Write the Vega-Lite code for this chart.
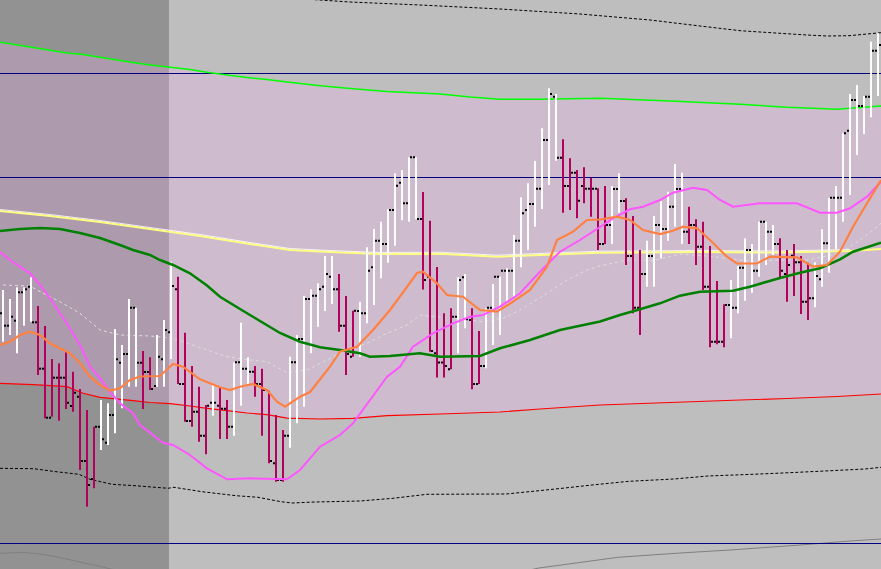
{
"$schema":"https://vega.github.io/schema/vega-lite/v6.json",
"width":881,"height":569,"padding":0,"autosize":{"type":"none"},
"background":"#bebebe",
"config":{"view":{"stroke":null}},
"datasets":{
"zone":[{"t":-0.43,"t2":23.71}],
"levels":[{"v":495.5},{"v":391.5},{"v":25.5}],
"band":[
{"t":-0.43,"up":526.7,"lo":185.7},{"t":4.29,"up":521.5,"lo":184.3},{"t":9.14,"up":516,"lo":182.3},{"t":11.43,"up":514.5,"lo":175.7},{"t":13.86,"up":511.7,"lo":171.7},{"t":18.57,"up":506.5,"lo":168.3},{"t":21,"up":504,"lo":166.5},{"t":23.86,"up":501.8,"lo":165.3},{"t":26.71,"up":499.5,"lo":163},{"t":29.14,"up":496.7,"lo":160.7},{"t":32,"up":494,"lo":158.3},{"t":34.86,"up":491.5,"lo":156},{"t":37.71,"up":489.5,"lo":154.3},{"t":40.57,"up":487,"lo":150.8},{"t":45.29,"up":483.2,"lo":150},{"t":50,"up":480.2,"lo":150.7},{"t":54.86,"up":477.5,"lo":153.3},{"t":62.43,"up":475,"lo":155},{"t":66.71,"up":472,"lo":156},{"t":71,"up":469.7,"lo":157},{"t":76.71,"up":469.7,"lo":160},{"t":85.29,"up":470.7,"lo":164},{"t":95.29,"up":468,"lo":166.5},{"t":105.29,"up":464.7,"lo":169},{"t":112,"up":461.7,"lo":170.5},{"t":119.14,"up":459.7,"lo":172.5},{"t":125.43,"up":463,"lo":175}],
"lines":[
{"s":"dtop","t":28.14,"v":579},{"s":"dtop","t":41,"v":571},{"s":"dtop","t":49.57,"v":567},{"s":"dtop","t":59.57,"v":564},{"s":"dtop","t":71,"v":560},{"s":"dtop","t":82.43,"v":555},{"s":"dtop","t":92.43,"v":549},{"s":"dtop","t":99.57,"v":543},{"s":"dtop","t":105.29,"v":538.3},{"s":"dtop","t":111,"v":535.7},{"s":"dtop","t":114.86,"v":534},{"s":"dtop","t":117.71,"v":533},{"s":"dtop","t":120.86,"v":533.3},{"s":"dtop","t":125.43,"v":536.3},
{"s":"dbot","t":-0.43,"v":100.7},{"s":"dbot","t":4.39,"v":100.3},{"s":"dbot","t":7.57,"v":97.3},{"s":"dbot","t":10.86,"v":94.7},{"s":"dbot","t":12.43,"v":89.7},{"s":"dbot","t":15.57,"v":84.7},{"s":"dbot","t":18.86,"v":83.3},{"s":"dbot","t":23.57,"v":80.7},{"s":"dbot","t":24.43,"v":81.7},{"s":"dbot","t":28.43,"v":77.3},{"s":"dbot","t":33.29,"v":73.3},{"s":"dbot","t":36.43,"v":71.7},{"s":"dbot","t":39.71,"v":67.3},{"s":"dbot","t":41.29,"v":66},{"s":"dbot","t":44.57,"v":67},{"s":"dbot","t":51,"v":68},{"s":"dbot","t":55.71,"v":70.7},{"s":"dbot","t":60.57,"v":74.7},{"s":"dbot","t":71.86,"v":75},{"s":"dbot","t":76.57,"v":78.3},{"s":"dbot","t":79.86,"v":80.7},{"s":"dbot","t":84.57,"v":84.3},{"s":"dbot","t":89.43,"v":87.7},{"s":"dbot","t":95.86,"v":90},{"s":"dbot","t":100.71,"v":93},{"s":"dbot","t":107.14,"v":94.7},{"s":"dbot","t":113.57,"v":96.7},{"s":"dbot","t":118.29,"v":98.3},{"s":"dbot","t":123.14,"v":100},{"s":"dbot","t":125.43,"v":101.7},
{"s":"grey","g":"a","t":-0.43,"v":15.7},{"s":"grey","g":"a","t":2.71,"v":16.7},{"s":"grey","g":"a","t":5.29,"v":15},{"s":"grey","g":"a","t":7.57,"v":12.3},{"s":"grey","g":"a","t":11,"v":7},{"s":"grey","g":"a","t":14,"v":2.3},{"s":"grey","g":"a","t":16,"v":-1},
{"s":"grey","g":"b","t":73.86,"v":-3},{"s":"grey","g":"b","t":76.57,"v":1},{"s":"grey","g":"b","t":87.86,"v":11.7},{"s":"grey","g":"b","t":96.71,"v":16},{"s":"grey","g":"b","t":103.86,"v":19},{"s":"grey","g":"b","t":113.86,"v":24},{"s":"grey","g":"b","t":121,"v":28},{"s":"grey","g":"b","t":125.43,"v":30},
{"s":"faint","t":0,"v":284},{"s":"faint","t":3.86,"v":283},{"s":"faint","t":5.29,"v":277.3},{"s":"faint","t":8.14,"v":267.3},{"s":"faint","t":11,"v":255.7},{"s":"faint","t":13.86,"v":239},{"s":"faint","t":16.71,"v":234},{"s":"faint","t":21,"v":233},{"s":"faint","t":24.29,"v":230.7},{"s":"faint","t":29.14,"v":219},{"s":"faint","t":32,"v":212.3},{"s":"faint","t":35.29,"v":209},{"s":"faint","t":37.71,"v":207.3},{"s":"faint","t":40.57,"v":196.3},{"s":"faint","t":43.43,"v":199},{"s":"faint","t":46.29,"v":209},{"s":"faint","t":49.14,"v":219},{"s":"faint","t":52,"v":225.7},{"s":"faint","t":54.86,"v":235.7},{"s":"faint","t":57.71,"v":244},{"s":"faint","t":59.57,"v":254},{"s":"faint","t":62.43,"v":251.7},{"s":"faint","t":65.71,"v":249.7},{"s":"faint","t":68.57,"v":247.3},{"s":"faint","t":71.43,"v":250.7},{"s":"faint","t":73.86,"v":259},{"s":"faint","t":77.71,"v":275.7},{"s":"faint","t":80.57,"v":289},{"s":"faint","t":83.43,"v":299},{"s":"faint","t":85.29,"v":303},{"s":"faint","t":89.14,"v":309},{"s":"faint","t":92.86,"v":308.3},{"s":"faint","t":96.71,"v":315},{"s":"faint","t":100.57,"v":313},{"s":"faint","t":103.43,"v":310.7},{"s":"faint","t":107.14,"v":307.3},{"s":"faint","t":111,"v":309},{"s":"faint","t":114.86,"v":309},{"s":"faint","t":119.57,"v":315.7},{"s":"faint","t":122.43,"v":329},{"s":"faint","t":124.29,"v":339},{"s":"faint","t":125.43,"v":345.7},
{"s":"yellow","t":-0.43,"v":358},{"s":"yellow","t":6.71,"v":353},{"s":"yellow","t":13.86,"v":347},{"s":"yellow","t":21,"v":340},{"s":"yellow","t":28.14,"v":333},{"s":"yellow","t":35.29,"v":325},{"s":"yellow","t":41,"v":319},{"s":"yellow","t":46.71,"v":317},{"s":"yellow","t":53.86,"v":315},{"s":"yellow","t":62.43,"v":315.3},{"s":"yellow","t":70.57,"v":312.3},{"s":"yellow","t":77.71,"v":314.3},{"s":"yellow","t":85.29,"v":316.3},{"s":"yellow","t":99.57,"v":317},{"s":"yellow","t":111,"v":316.5},{"s":"yellow","t":121,"v":318},{"s":"yellow","t":125.43,"v":320},
{"s":"white","t":-0.43,"v":359.5},{"s":"white","t":6.71,"v":354.5},{"s":"white","t":13.86,"v":348.5},{"s":"white","t":21,"v":341.5},{"s":"white","t":28.14,"v":334.5},{"s":"white","t":35.29,"v":326.5},{"s":"white","t":41,"v":320.5},{"s":"white","t":46.71,"v":318.5},{"s":"white","t":53.86,"v":316.5},{"s":"white","t":62.43,"v":316.8},{"s":"white","t":70.57,"v":313.8},{"s":"white","t":77.71,"v":315.8},{"s":"white","t":85.29,"v":317.8},{"s":"white","t":99.57,"v":318.5},{"s":"white","t":111,"v":318},{"s":"white","t":121,"v":319.5},
{"s":"dgreen","t":-0.43,"v":338},{"s":"dgreen","t":2.43,"v":340},{"s":"dgreen","t":5.29,"v":341},{"s":"dgreen","t":8.14,"v":340},{"s":"dgreen","t":11,"v":336},{"s":"dgreen","t":13.86,"v":331},{"s":"dgreen","t":16.71,"v":324},{"s":"dgreen","t":18.57,"v":319},{"s":"dgreen","t":21,"v":314},{"s":"dgreen","t":22.43,"v":309},{"s":"dgreen","t":24.29,"v":304},{"s":"dgreen","t":26.71,"v":295.7},{"s":"dgreen","t":29.14,"v":283.5},{"s":"dgreen","t":31,"v":272.3},{"s":"dgreen","t":33.86,"v":260},{"s":"dgreen","t":36.71,"v":248},{"s":"dgreen","t":39.57,"v":236},{"s":"dgreen","t":42.43,"v":227.3},{"s":"dgreen","t":45.29,"v":221.7},{"s":"dgreen","t":48.14,"v":219},{"s":"dgreen","t":51,"v":215.7},{"s":"dgreen","t":52.43,"v":212.3},{"s":"dgreen","t":55.29,"v":213},{"s":"dgreen","t":59.57,"v":215.7},{"s":"dgreen","t":62.43,"v":212.3},{"s":"dgreen","t":68.14,"v":213},{"s":"dgreen","t":71,"v":220.7},{"s":"dgreen","t":75.29,"v":229},{"s":"dgreen","t":79.57,"v":239},{"s":"dgreen","t":85.29,"v":247.5},{"s":"dgreen","t":88.14,"v":254},{"s":"dgreen","t":91,"v":259.7},{"s":"dgreen","t":93.86,"v":265.7},{"s":"dgreen","t":96.71,"v":273.3},{"s":"dgreen","t":99.57,"v":277.3},{"s":"dgreen","t":104.29,"v":278.3},{"s":"dgreen","t":106.71,"v":282.3},{"s":"dgreen","t":109.14,"v":287.3},{"s":"dgreen","t":111,"v":291},{"s":"dgreen","t":113.86,"v":296.3},{"s":"dgreen","t":116.71,"v":300.7},{"s":"dgreen","t":119.57,"v":309.7},{"s":"dgreen","t":121.43,"v":317.3},{"s":"dgreen","t":125.43,"v":326.3},
{"s":"magenta","t":-0.43,"v":317},{"s":"magenta","t":1,"v":309},{"s":"magenta","t":3.86,"v":295.7},{"s":"magenta","t":5.29,"v":284},{"s":"magenta","t":6.71,"v":270.7},{"s":"magenta","t":8.14,"v":255.7},{"s":"magenta","t":9.57,"v":240.7},{"s":"magenta","t":11,"v":224},{"s":"magenta","t":12.43,"v":202.3},{"s":"magenta","t":13.86,"v":190.7},{"s":"magenta","t":15.29,"v":177.3},{"s":"magenta","t":16.71,"v":165.7},{"s":"magenta","t":18.57,"v":155.7},{"s":"magenta","t":19.57,"v":144},{"s":"magenta","t":21.43,"v":134},{"s":"magenta","t":22.86,"v":126.3},{"s":"magenta","t":24.29,"v":124},{"s":"magenta","t":26.71,"v":114},{"s":"magenta","t":29.14,"v":100.7},{"s":"magenta","t":32,"v":89.7},{"s":"magenta","t":35.29,"v":90.7},{"s":"magenta","t":40.57,"v":89.7},{"s":"magenta","t":42.43,"v":99},{"s":"magenta","t":45.29,"v":122.3},{"s":"magenta","t":48.14,"v":134},{"s":"magenta","t":50,"v":145.7},{"s":"magenta","t":52.43,"v":169},{"s":"magenta","t":54.86,"v":192.3},{"s":"magenta","t":56.71,"v":202.3},{"s":"magenta","t":58.57,"v":222.3},{"s":"magenta","t":61.43,"v":235.7},{"s":"magenta","t":64.29,"v":245.7},{"s":"magenta","t":66.71,"v":252.3},{"s":"magenta","t":68.57,"v":254},{"s":"magenta","t":71,"v":262.3},{"s":"magenta","t":73.86,"v":275.7},{"s":"magenta","t":76.71,"v":297.3},{"s":"magenta","t":79.57,"v":317.3},{"s":"magenta","t":82.43,"v":329},{"s":"magenta","t":85.29,"v":342},{"s":"magenta","t":87.14,"v":350.7},{"s":"magenta","t":89.57,"v":359.7},{"s":"magenta","t":91.43,"v":362.3},{"s":"magenta","t":93.86,"v":369},{"s":"magenta","t":95.71,"v":376.3},{"s":"magenta","t":98.57,"v":381.3},{"s":"magenta","t":100.57,"v":379},{"s":"magenta","t":102.43,"v":369},{"s":"magenta","t":104.29,"v":362.3},{"s":"magenta","t":108.14,"v":365.7},{"s":"magenta","t":113.43,"v":365.7},{"s":"magenta","t":116.71,"v":356.3},{"s":"magenta","t":119.14,"v":356.3},{"s":"magenta","t":121,"v":360.7},{"s":"magenta","t":123.43,"v":372.3},{"s":"magenta","t":125.43,"v":387.3},
{"s":"orange","t":-0.43,"v":224},{"s":"orange","t":1,"v":227.3},{"s":"orange","t":2.43,"v":234},{"s":"orange","t":3.86,"v":237.3},{"s":"orange","t":5.29,"v":234},{"s":"orange","t":6.71,"v":225.7},{"s":"orange","t":8.14,"v":220.7},{"s":"orange","t":9.57,"v":215.7},{"s":"orange","t":11,"v":205.7},{"s":"orange","t":12.43,"v":192.3},{"s":"orange","t":13.86,"v":184},{"s":"orange","t":15.29,"v":178.3},{"s":"orange","t":16.71,"v":180.7},{"s":"orange","t":18.14,"v":189},{"s":"orange","t":19.57,"v":192.5},{"s":"orange","t":22.43,"v":193},{"s":"orange","t":24.29,"v":205},{"s":"orange","t":25.71,"v":202.3},{"s":"orange","t":28.14,"v":189.7},{"s":"orange","t":31,"v":181.7},{"s":"orange","t":32.43,"v":179},{"s":"orange","t":33.86,"v":182.3},{"s":"orange","t":35.71,"v":185},{"s":"orange","t":37.71,"v":179},{"s":"orange","t":39.14,"v":167.3},{"s":"orange","t":40.29,"v":162.3},{"s":"orange","t":42.43,"v":172.3},{"s":"orange","t":43.86,"v":177},{"s":"orange","t":46.71,"v":202.3},{"s":"orange","t":48.14,"v":217.3},{"s":"orange","t":50.57,"v":222.3},{"s":"orange","t":52.86,"v":239},{"s":"orange","t":55.29,"v":259},{"s":"orange","t":57.71,"v":282},{"s":"orange","t":59.14,"v":296},{"s":"orange","t":60,"v":297.3},{"s":"orange","t":62,"v":285.7},{"s":"orange","t":63.43,"v":274},{"s":"orange","t":65.71,"v":272.3},{"s":"orange","t":68.14,"v":259},{"s":"orange","t":70.57,"v":257.3},{"s":"orange","t":72.86,"v":267.3},{"s":"orange","t":75.29,"v":279},{"s":"orange","t":77.71,"v":302.3},{"s":"orange","t":79.14,"v":329},{"s":"orange","t":81.43,"v":337.3},{"s":"orange","t":83.43,"v":349},{"s":"orange","t":85.29,"v":349.5},{"s":"orange","t":87.71,"v":352.3},{"s":"orange","t":89.57,"v":349},{"s":"orange","t":91.43,"v":339},{"s":"orange","t":93.86,"v":335},{"s":"orange","t":95.71,"v":338.3},{"s":"orange","t":97.14,"v":342.3},{"s":"orange","t":99.14,"v":340.7},{"s":"orange","t":101,"v":329},{"s":"orange","t":103.43,"v":312.3},{"s":"orange","t":104.86,"v":305.7},{"s":"orange","t":107.71,"v":305.5},{"s":"orange","t":109.57,"v":312.3},{"s":"orange","t":113.43,"v":311.7},{"s":"orange","t":115.71,"v":302.3},{"s":"orange","t":117.71,"v":304},{"s":"orange","t":119.57,"v":317.3},{"s":"orange","t":121.43,"v":342.3},{"s":"orange","t":123.43,"v":365.7},{"s":"orange","t":125.43,"v":389}
],
"bars":[
{"t":0,"h":279,"l":227.3,"o":255.7,"c":243.3,"d":"up"},
{"t":1,"h":270,"l":234,"o":243.3,"c":252.3,"d":"up"},
{"t":2,"h":281.7,"l":215.7,"o":248.3,"c":276.7,"d":"up"},
{"t":3,"h":281.7,"l":243.3,"o":276.7,"c":279.7,"d":"up"},
{"t":4,"h":291.7,"l":247.3,"o":282.3,"c":246.7,"d":"up"},
{"t":5,"h":263,"l":194,"o":246.7,"c":200.3,"d":"down"},
{"t":6,"h":243,"l":150.7,"o":200.3,"c":151.3,"d":"down"},
{"t":7,"h":210,"l":152.3,"o":151.3,"c":191.3,"d":"down"},
{"t":8,"h":205.7,"l":148.3,"o":191.3,"c":191.3,"d":"down"},
{"t":9,"h":218,"l":160,"o":191.3,"c":166.3,"d":"down"},
{"t":10,"h":197.3,"l":157.3,"o":163,"c":176.3,"d":"down"},
{"t":11,"h":180,"l":99,"o":172.3,"c":108,"d":"down"},
{"t":12,"h":159,"l":62.3,"o":108,"c":84,"d":"down"},
{"t":13,"h":142.3,"l":80.7,"o":90,"c":142.3,"d":"down"},
{"t":14,"h":169,"l":119,"o":142.3,"c":129.7,"d":"up"},
{"t":15,"h":165.7,"l":124,"o":126.3,"c":154,"d":"up"},
{"t":16,"h":240,"l":135.7,"o":154,"c":209.7,"d":"up"},
{"t":17,"h":224,"l":160.7,"o":206.3,"c":215,"d":"up"},
{"t":18,"h":270,"l":182.3,"o":215,"c":261.3,"d":"up"},
{"t":19,"h":261.3,"l":182.3,"o":261.3,"c":206.3,"d":"up"},
{"t":20,"h":218,"l":160,"o":206.3,"c":197,"d":"down"},
{"t":21,"h":211.7,"l":179,"o":197,"c":180,"d":"down"},
{"t":22,"h":234,"l":182.3,"o":183,"c":212.3,"d":"up"},
{"t":23,"h":249,"l":182.3,"o":209.7,"c":239,"d":"up"},
{"t":24,"h":307.3,"l":210,"o":236.7,"c":283,"d":"up"},
{"t":25,"h":292.3,"l":185,"o":279.7,"c":185,"d":"down"},
{"t":26,"h":236.3,"l":147.3,"o":185,"c":148,"d":"down"},
{"t":27,"h":203,"l":142.3,"o":148,"c":157.3,"d":"down"},
{"t":28,"h":182.3,"l":127.3,"o":157.3,"c":133.3,"d":"down"},
{"t":29,"h":164,"l":114.7,"o":133.3,"c":163.3,"d":"down"},
{"t":30,"h":184,"l":153.3,"o":166.3,"c":166.3,"d":"up"},
{"t":31,"h":181.7,"l":130,"o":163.3,"c":160.3,"d":"down"},
{"t":32,"h":169,"l":130,"o":160.3,"c":142.3,"d":"down"},
{"t":33,"h":206.7,"l":133.3,"o":142.3,"c":206.7,"d":"up"},
{"t":34,"h":246.3,"l":163.3,"o":206.7,"c":200.3,"d":"up"},
{"t":35,"h":211.7,"l":185,"o":200.3,"c":197.3,"d":"up"},
{"t":36,"h":203,"l":172.3,"o":197.3,"c":185,"d":"down"},
{"t":37,"h":200.3,"l":133.3,"o":185,"c":179,"d":"down"},
{"t":38,"h":178.3,"l":105.7,"o":179,"c":108,"d":"down"},
{"t":39,"h":154,"l":87.3,"o":105.7,"c":89,"d":"down"},
{"t":40,"h":139,"l":87.3,"o":89,"c":133.3,"d":"down"},
{"t":41,"h":212.3,"l":121.3,"o":133.3,"c":206.7,"d":"up"},
{"t":42,"h":234,"l":145.7,"o":206.7,"c":230,"d":"up"},
{"t":43,"h":273,"l":162.3,"o":230,"c":270,"d":"up"},
{"t":44,"h":279.7,"l":215.7,"o":270,"c":273.3,"d":"up"},
{"t":45,"h":285.7,"l":242.3,"o":273.3,"c":279.7,"d":"up"},
{"t":46,"h":313,"l":258,"o":282.3,"c":295,"d":"up"},
{"t":47,"h":313,"l":265,"o":292.3,"c":279.7,"d":"up"},
{"t":48,"h":295,"l":237.3,"o":279.7,"c":243.3,"d":"down"},
{"t":49,"h":273,"l":194,"o":243.3,"c":215,"d":"down"},
{"t":50,"h":258.3,"l":212.3,"o":212.3,"c":258.3,"d":"down"},
{"t":51,"h":267.3,"l":212.3,"o":258,"c":255.7,"d":"up"},
{"t":52,"h":321.7,"l":245.7,"o":255.7,"c":298.3,"d":"up"},
{"t":53,"h":340,"l":264,"o":301.7,"c":328.3,"d":"up"},
{"t":54,"h":347.3,"l":290.7,"o":328.3,"c":325,"d":"up"},
{"t":55,"h":359.7,"l":306.3,"o":325,"c":359,"d":"up"},
{"t":56,"h":395.7,"l":323.3,"o":359,"c":383.3,"d":"up"},
{"t":57,"h":399,"l":348.7,"o":386.3,"c":365.7,"d":"up"},
{"t":58,"h":411.7,"l":347.3,"o":365.7,"c":411.7,"d":"up"},
{"t":59,"h":411.7,"l":349.7,"o":411.7,"c":350,"d":"up"},
{"t":60,"h":377,"l":279.5,"o":350,"c":289,"d":"down"},
{"t":61,"h":348.3,"l":217.3,"o":292.3,"c":218,"d":"down"},
{"t":62,"h":302,"l":191.5,"o":215.7,"c":206.5,"d":"down"},
{"t":63,"h":255.7,"l":191.5,"o":206.5,"c":203,"d":"down"},
{"t":64,"h":260.7,"l":199.7,"o":199.7,"c":252.3,"d":"down"},
{"t":65,"h":291.7,"l":215.7,"o":252.3,"c":289,"d":"up"},
{"t":66,"h":295,"l":240.7,"o":291.7,"c":249.7,"d":"up"},
{"t":67,"h":260.7,"l":179.7,"o":249,"c":185,"d":"down"},
{"t":68,"h":238,"l":185,"o":185,"c":203,"d":"down"},
{"t":69,"h":260.7,"l":200.7,"o":203,"c":261.3,"d":"up"},
{"t":70,"h":285,"l":224,"o":261.3,"c":292.3,"d":"up"},
{"t":71,"h":292.3,"l":234,"o":292.3,"c":298.3,"d":"up"},
{"t":72,"h":300.7,"l":265.7,"o":298.3,"c":298.3,"d":"up"},
{"t":73,"h":334,"l":272.3,"o":298.3,"c":328.3,"d":"up"},
{"t":74,"h":371.7,"l":301.7,"o":328.3,"c":355.7,"d":"up"},
{"t":75,"h":385.7,"l":319,"o":359,"c":365,"d":"up"},
{"t":76,"h":408,"l":342.3,"o":365,"c":380.3,"d":"up"},
{"t":77,"h":440.7,"l":360,"o":380.3,"c":429,"d":"up"},
{"t":78,"h":480.7,"l":384,"o":429,"c":475,"d":"up"},
{"t":79,"h":475,"l":408.3,"o":472.3,"c":411.3,"d":"up"},
{"t":80,"h":429.7,"l":356.3,"o":411.3,"c":383,"d":"down"},
{"t":81,"h":410.7,"l":359,"o":383,"c":396.3,"d":"down"},
{"t":82,"h":399,"l":350.7,"o":396.3,"c":368.3,"d":"down"},
{"t":83,"h":401.7,"l":365.7,"o":383,"c":380.3,"d":"down"},
{"t":84,"h":391.3,"l":352.3,"o":380.3,"c":380.3,"d":"down"},
{"t":85,"h":380.7,"l":319,"o":380.3,"c":325,"d":"down"},
{"t":86,"h":383,"l":325,"o":325,"c":344,"d":"down"},
{"t":87,"h":383,"l":325,"o":344,"c":380,"d":"up"},
{"t":88,"h":395.7,"l":356.3,"o":380,"c":368,"d":"up"},
{"t":89,"h":370.7,"l":304,"o":368,"c":313,"d":"down"},
{"t":90,"h":353,"l":255.7,"o":313,"c":261.3,"d":"down"},
{"t":91,"h":319,"l":234,"o":261.3,"c":295,"d":"down"},
{"t":92,"h":328.3,"l":282.3,"o":295,"c":313,"d":"up"},
{"t":93,"h":353,"l":282.3,"o":313,"c":344,"d":"up"},
{"t":94,"h":368,"l":310.7,"o":344,"c":340,"d":"up"},
{"t":95,"h":377.3,"l":328.3,"o":340,"c":362.3,"d":"up"},
{"t":96,"h":405,"l":342.3,"o":362.3,"c":380,"d":"up"},
{"t":97,"h":396.3,"l":325,"o":380,"c":337.3,"d":"up"},
{"t":98,"h":362.3,"l":325,"o":337.3,"c":344,"d":"down"},
{"t":99,"h":349.7,"l":304,"o":344,"c":322.3,"d":"down"},
{"t":100,"h":347.3,"l":279,"o":322.3,"c":282.3,"d":"down"},
{"t":101,"h":323,"l":221.7,"o":282.3,"c":227.3,"d":"down"},
{"t":102,"h":288,"l":224.7,"o":227.3,"c":227.3,"d":"down"},
{"t":103,"h":264.7,"l":221.7,"o":227.3,"c":264,"d":"down"},
{"t":104,"h":289,"l":230.7,"o":264,"c":261.3,"d":"up"},
{"t":105,"h":303,"l":255.7,"o":261.3,"c":301.3,"d":"up"},
{"t":106,"h":330.7,"l":268.3,"o":301.3,"c":319,"d":"up"},
{"t":107,"h":325,"l":276.3,"o":319,"c":298.3,"d":"up"},
{"t":108,"h":347.3,"l":292.3,"o":298.3,"c":347.3,"d":"up"},
{"t":109,"h":347.3,"l":304,"o":347.3,"c":337.3,"d":"up"},
{"t":110,"h":344,"l":314,"o":337.3,"c":325,"d":"up"},
{"t":111,"h":330.7,"l":290.7,"o":325,"c":298.3,"d":"down"},
{"t":112,"h":319,"l":267.3,"o":295,"c":304,"d":"down"},
{"t":113,"h":325,"l":273,"o":313.3,"c":306.7,"d":"down"},
{"t":114,"h":313,"l":255,"o":306.7,"c":267.3,"d":"down"},
{"t":115,"h":306.3,"l":249,"o":267.3,"c":270.7,"d":"down"},
{"t":116,"h":306.7,"l":261.7,"o":270.7,"c":293,"d":"up"},
{"t":117,"h":339.7,"l":282.3,"o":289.7,"c":325.7,"d":"up"},
{"t":118,"h":371.3,"l":296.3,"o":325.7,"c":371.3,"d":"up"},
{"t":119,"h":383,"l":319.7,"o":371.3,"c":371.3,"d":"up"},
{"t":120,"h":435.7,"l":347.3,"o":371.3,"c":435.7,"d":"up"},
{"t":121,"h":475,"l":374,"o":438.3,"c":469,"d":"up"},
{"t":122,"h":484,"l":414,"o":469,"c":463,"d":"up"},
{"t":123,"h":473,"l":435,"o":463,"c":472.3,"d":"up"},
{"t":124,"h":527.3,"l":451.7,"o":472.3,"c":518.3,"d":"up"},
{"t":125,"h":535.7,"l":473,"o":518.3,"c":524,"d":"up"}
]},
"layer":[
{"data":{"name":"zone"},"mark":{"type":"rect","color":"#929292"},
 "encoding":{"x":{"field":"t","type":"quantitative","scale":{"domain":[-0.428571,125.428571],"nice":false,"zero":false},"axis":null},"x2":{"field":"t2"},"y":{"value":0},"y2":{"value":"height"}}},
{"data":{"name":"band"},"mark":{"type":"area","color":"#ffb6ff","opacity":0.25,"clip":true},
 "encoding":{"x":{"field":"t","type":"quantitative","axis":null},"y":{"field":"up","type":"quantitative","scale":{"domain":[0,569],"nice":false,"zero":false},"axis":null},"y2":{"field":"lo"}}},
{"data":{"name":"lines"},"transform":[{"filter":"datum.s==='grey'"}],"mark":{"type":"line","color":"#808080","strokeWidth":1,"clip":true},
 "encoding":{"x":{"field":"t","type":"quantitative","axis":null},"y":{"field":"v","type":"quantitative","axis":null},"detail":{"field":"g"}}},
{"data":{"name":"lines"},"transform":[{"filter":"datum.s==='dtop' || datum.s==='dbot'"}],"mark":{"type":"line","color":"#000000","strokeWidth":1,"strokeDash":[3,2],"clip":true},
 "encoding":{"x":{"field":"t","type":"quantitative","axis":null},"y":{"field":"v","type":"quantitative","axis":null},"detail":{"field":"s"}}},
{"data":{"name":"levels"},"mark":{"type":"rule","color":"#000080","strokeWidth":1},
 "encoding":{"y":{"field":"v","type":"quantitative","axis":null}}},
{"data":{"name":"band"},"mark":{"type":"line","color":"#00ff00","strokeWidth":1.5,"clip":true},
 "encoding":{"x":{"field":"t","type":"quantitative","axis":null},"y":{"field":"up","type":"quantitative","axis":null}}},
{"data":{"name":"band"},"mark":{"type":"line","color":"#ff0000","strokeWidth":1.2,"clip":true},
 "encoding":{"x":{"field":"t","type":"quantitative","axis":null},"y":{"field":"lo","type":"quantitative","axis":null}}},
{"data":{"name":"lines"},"transform":[{"filter":"datum.s==='faint'"}],"mark":{"type":"line","color":"#dedede","strokeWidth":1,"strokeDash":[3,3],"clip":true},
 "encoding":{"x":{"field":"t","type":"quantitative","axis":null},"y":{"field":"v","type":"quantitative","axis":null}}},
{"data":{"name":"lines"},"transform":[{"filter":"datum.s==='yellow'"}],"mark":{"type":"line","color":"#ffff80","strokeWidth":2,"clip":true},
 "encoding":{"x":{"field":"t","type":"quantitative","axis":null},"y":{"field":"v","type":"quantitative","axis":null}}},
{"data":{"name":"lines"},"transform":[{"filter":"datum.s==='white'"}],"mark":{"type":"line","color":"#ffffff","strokeWidth":1,"opacity":0.8,"clip":true},
 "encoding":{"x":{"field":"t","type":"quantitative","axis":null},"y":{"field":"v","type":"quantitative","axis":null}}},
{"data":{"name":"bars"},"mark":{"type":"rule","strokeWidth":2},
 "encoding":{"x":{"field":"t","type":"quantitative","axis":null},"y":{"field":"l","type":"quantitative","axis":null},"y2":{"field":"h"},
  "color":{"field":"d","type":"nominal","scale":{"domain":["up","down"],"range":["#ffffff","#b3005c"]},"legend":null}}},
{"data":{"name":"bars"},"mark":{"type":"square","size":4,"filled":true,"color":"#000000","opacity":1,"strokeWidth":0,"xOffset":-2},
 "encoding":{"x":{"field":"t","type":"quantitative","axis":null},"y":{"field":"o","type":"quantitative","axis":null}}},
{"data":{"name":"bars"},"mark":{"type":"square","size":4,"filled":true,"color":"#000000","opacity":1,"strokeWidth":0,"xOffset":2},
 "encoding":{"x":{"field":"t","type":"quantitative","axis":null},"y":{"field":"c","type":"quantitative","axis":null}}},
{"data":{"name":"lines"},"transform":[{"filter":"datum.s==='magenta'"}],"mark":{"type":"line","color":"#ff55ff","strokeWidth":2,"clip":true},
 "encoding":{"x":{"field":"t","type":"quantitative","axis":null},"y":{"field":"v","type":"quantitative","axis":null}}},
{"data":{"name":"lines"},"transform":[{"filter":"datum.s==='dgreen'"}],"mark":{"type":"line","color":"#008000","strokeWidth":2.5,"clip":true},
 "encoding":{"x":{"field":"t","type":"quantitative","axis":null},"y":{"field":"v","type":"quantitative","axis":null}}},
{"data":{"name":"lines"},"transform":[{"filter":"datum.s==='orange'"}],"mark":{"type":"line","color":"#ff8040","strokeWidth":2.2,"clip":true},
 "encoding":{"x":{"field":"t","type":"quantitative","axis":null},"y":{"field":"v","type":"quantitative","axis":null}}}
]
}
